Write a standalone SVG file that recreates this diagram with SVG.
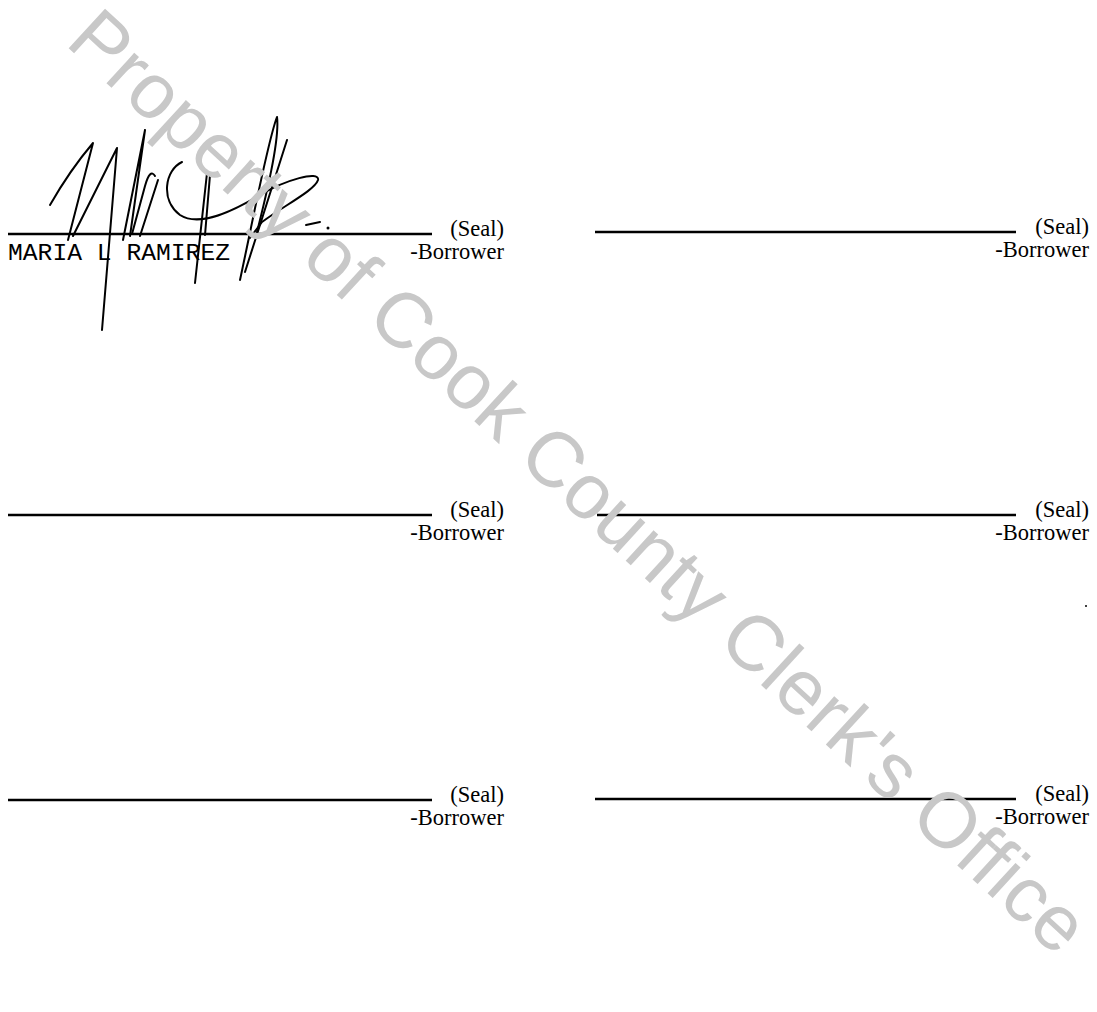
<svg xmlns="http://www.w3.org/2000/svg" width="1097" height="1012" viewBox="0 0 1097 1012">
<style>
.ln{stroke:#000;stroke-width:2.6;fill:none}
.seal{font-family:"Liberation Serif","Times New Roman",serif;font-size:22.5px;fill:#000;text-anchor:end}
.name{font-family:"Liberation Mono","Courier New",monospace;font-size:24px;fill:#000}
.sig{stroke:#000;stroke-width:2;fill:none;stroke-linecap:round;stroke-linejoin:round}
.wm{font-family:"Liberation Sans",Arial,sans-serif;font-size:78px;fill:#c8c8c8}
</style>
<rect width="1097" height="1012" fill="#fff"/>
<g id="connectors">
<line class="ln" x1="8" y1="234" x2="432" y2="234"/>
<line class="ln" x1="595" y1="232" x2="1016" y2="232"/>
<line class="ln" x1="8" y1="515" x2="432" y2="515"/>
<line class="ln" x1="597" y1="515" x2="1016" y2="515"/>
<line class="ln" x1="8" y1="800" x2="432" y2="800"/>
<line class="ln" x1="595" y1="799" x2="1016" y2="799"/>
</g>
<g id="sig1">
<text class="seal" x="504" y="236">(Seal)</text>
<text class="seal" x="504" y="259">-Borrower</text>
<text class="name" x="8" y="260" textLength="222" lengthAdjust="spacingAndGlyphs">MARIA L RAMIREZ</text>
<g id="signature">
<path class="sig" d="M50,205 Q70,170 93,143 L68,240"/>
<path class="sig" d="M73,236 L117,148 L102,330"/>
<path class="sig" d="M123,240 L145,130 L130,236"/>
<path class="sig" d="M155,176 Q150,168 145,186 L132,234 M158,180 L140,236"/>
<path class="sig" d="M182,162 C165,170 160,200 180,215 C200,228 235,210 260,195 C285,180 320,170 318,180 C315,190 285,205 262,222 L250,238"/>
<path class="sig" d="M207,173 L195,283"/>
<path class="sig" d="M210,175 L205,235"/>
<path class="sig" d="M240,280 C255,210 268,140 277,117 C280,140 265,200 257,232"/>
<path class="sig" d="M287,140 L245,272"/>
<path class="sig" d="M306,225 L320,222"/>
<circle cx="328" cy="228" r="1.5" fill="#000"/>
</g>
</g>
<g id="sig2">
<text class="seal" x="1089" y="234">(Seal)</text>
<text class="seal" x="1089" y="257">-Borrower</text>
</g>
<g id="sig3">
<text class="seal" x="504" y="517">(Seal)</text>
<text class="seal" x="504" y="540">-Borrower</text>
</g>
<g id="sig4">
<text class="seal" x="1089" y="517">(Seal)</text>
<text class="seal" x="1089" y="540">-Borrower</text>
</g>
<g id="sig5">
<text class="seal" x="504" y="802">(Seal)</text>
<text class="seal" x="504" y="825">-Borrower</text>
</g>
<g id="sig6">
<text class="seal" x="1089" y="801">(Seal)</text>
<text class="seal" x="1089" y="824">-Borrower</text>
</g>
<circle cx="1086" cy="606" r="1" fill="#000"/>
<g id="watermark">
<text class="wm" x="0" y="0" transform="translate(64,44) rotate(42.6)" textLength="1350" lengthAdjust="spacing">Property of Cook County Clerk's Office</text>
</g>
</svg>
